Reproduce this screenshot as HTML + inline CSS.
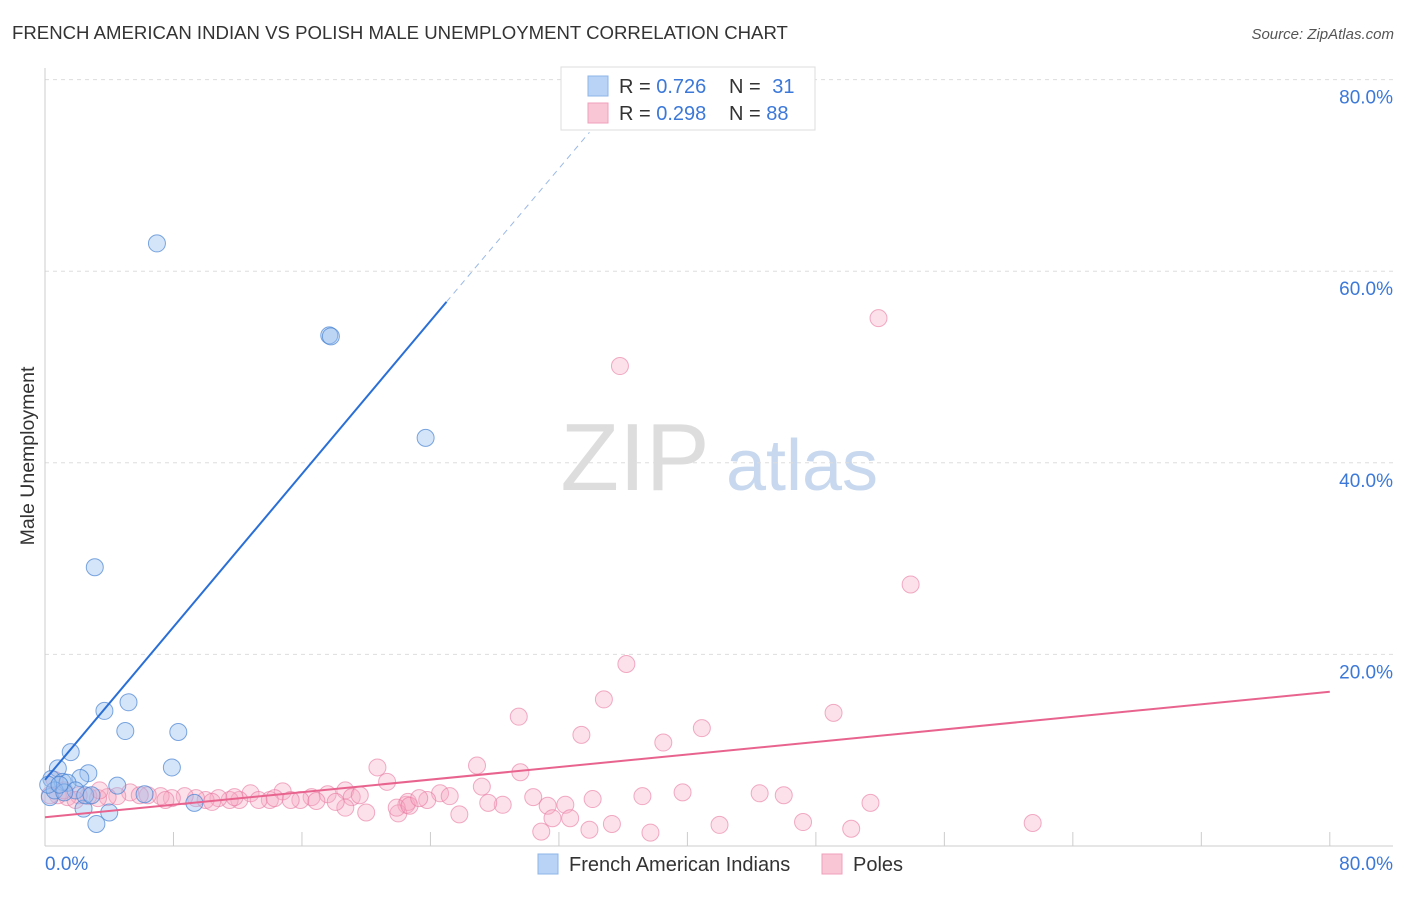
<!DOCTYPE html>
<html><head><meta charset="utf-8"><style>
body{margin:0;background:#fff;font-family:"Liberation Sans",sans-serif;}
svg text{font-family:"Liberation Sans",sans-serif;}
</style></head><body>
<svg id="chart" width="1406" height="892" viewBox="0 0 1406 892">
<text x="12" y="39" font-size="18.6" fill="#333">FRENCH AMERICAN INDIAN VS POLISH MALE UNEMPLOYMENT CORRELATION CHART</text>
<text x="1394" y="39" font-size="15" fill="#555" text-anchor="end" font-style="italic">Source: ZipAtlas.com</text>
<text x="34" y="456" font-size="19.5" fill="#333" text-anchor="middle" transform="rotate(-90 34 456)">Male Unemployment</text>
<g>
<text x="635" y="490" font-size="96" fill="#ddd" text-anchor="middle" font-family="Liberation Serif">ZIP</text>
<text x="802" y="490" font-size="72" fill="#c8d8ee" text-anchor="middle">atlas</text>
</g>
<g id="grid"></g>
<g id="axes"></g>
<g id="marks"></g>
<g>
<rect x="561" y="67" width="254" height="63" fill="#fff" stroke="#ddd"/>
<rect x="588" y="76" width="20" height="20" fill="#b8d3f5" stroke="#8db4e8"/>
<rect x="588" y="103" width="20" height="20" fill="#f9c6d6" stroke="#f0a0bb"/>
<text x="619" y="93" font-size="20" fill="#333">R = <tspan fill="#3b78d8">0.726</tspan></text>
<text x="729" y="93" font-size="20" fill="#333">N = <tspan fill="#3b78d8" dx="6">31</tspan></text>
<text x="619" y="120" font-size="20" fill="#333">R = <tspan fill="#3b78d8">0.298</tspan></text>
<text x="729" y="120" font-size="20" fill="#333">N = <tspan fill="#3b78d8">88</tspan></text>
</g>
<g>
<rect x="538" y="854" width="20" height="20" fill="#b8d3f5" stroke="#8db4e8"/>
<text x="569" y="871" font-size="20" fill="#333">French American Indians</text>
<rect x="822" y="854" width="20" height="20" fill="#f9c6d6" stroke="#f0a0bb"/>
<text x="853" y="871" font-size="20" fill="#333">Poles</text>
</g>
</svg>
<script>
const blueX=[6.97,17.7,17.8,23.7,3.1,3.7,5.2,5.0,8.3,1.6,7.9,0.8,2.7,4.5,0.4,1.1,2.2,1.4,6.2,9.3,4.0,2.4,3.2,0.3,0.6,1.9,2.5,1.2,0.2,2.9,0.9];
const blueY=[62.9,53.3,53.2,42.6,29.1,14.1,15.0,12.0,11.9,9.8,8.2,8.1,7.6,6.3,7.0,6.7,7.1,6.6,5.4,4.5,3.5,3.9,2.3,5.1,5.8,5.8,5.3,5.6,6.4,5.3,6.4];
const pinkX=[51.9,35.8,53.9,36.2,34.8,29.5,49.1,40.9,33.4,38.5,20.7,26.9,29.6,21.3,18.7,24.6,27.2,14.8,12.8,30.4,44.5,46.0,39.7,37.2,34.1,51.4,25.2,23.8,22.5,28.5,27.6,22.6,19.1,17.6,16.6,15.9,15.3,14.0,13.3,12.1,11.5,10.8,10.0,9.4,8.7,7.9,7.2,6.4,5.3,4.5,3.9,3.3,2.7,2.1,1.4,0.8,0.3,0.6,1.2,1.9,3.4,5.9,7.5,10.4,11.8,16.9,20.0,22.0,25.8,31.3,32.4,32.7,31.6,30.9,33.9,35.3,37.7,42.0,47.2,50.2,61.5,21.9,22.7,23.3,18.7,19.6,18.1,14.3];
const pinkY=[55.1,50.1,27.3,19.0,15.3,13.5,13.9,12.3,11.6,10.8,8.2,8.4,7.7,6.7,5.8,5.5,6.2,5.7,5.5,5.1,5.5,5.3,5.6,5.2,4.9,4.5,5.2,4.8,4.3,4.3,4.5,4.6,5.1,5.4,5.1,4.8,4.8,4.8,4.8,4.8,4.8,5.0,4.8,5.0,5.2,5.0,5.2,5.3,5.6,5.2,5.1,5.0,5.2,5.3,5.1,5.3,5.3,6.9,5.8,4.8,5.8,5.3,4.8,4.6,5.1,4.7,3.5,3.4,3.3,4.2,4.3,2.9,2.9,1.5,1.7,2.3,1.4,2.2,2.5,1.8,2.4,4.0,4.2,5.0,4.0,5.3,4.6,5.0];
const yTicks=[20,40,60,80];
const yTickLabels=["20.0%","40.0%","60.0%","80.0%"];
const blueTrend=[[0,6.9],[25,56.8],[33.9,74.5]];
const pinkTrend=[[0,3.0],[80,16.1]];
const NS='http://www.w3.org/2000/svg';
const sx=v=>45+v*16.06, sy=v=>846-v*9.58;
function mk(tag,attrs,parent){const e=document.createElementNS(NS,tag);for(const k in attrs)e.setAttribute(k,attrs[k]);parent.appendChild(e);return e;}
const grid=document.getElementById('grid'),axes=document.getElementById('axes'),marks=document.getElementById('marks');
yTicks.forEach((t,i)=>{
 const l=mk('line',{x1:45,x2:1393,y1:sy(t),y2:sy(t),stroke:'#ddd','stroke-dasharray':'4,4'},grid);
 
 
 const tx=mk('text',{x:1393,y:sy(t)+24,'font-size':19,fill:'#3b78d8','text-anchor':'end'},axes);
 tx.textContent=yTickLabels[i];
 
 
});
const ax=mk('line',{x1:45,x2:45,y1:68,y2:846,stroke:'#ccc'},axes);


const bx=mk('line',{x1:45,x2:1393,y1:846,y2:846,stroke:'#ccc'},axes);


for(let t=8;t<=80;t+=8){const k=mk('line',{x1:sx(t),x2:sx(t),y1:832,y2:846,stroke:'#ccc'},axes);
 
 }
const x0=mk('text',{x:45,y:870,'font-size':19,fill:'#3b78d8'},axes);x0.textContent='0.0%';


const x1=mk('text',{x:1393,y:870,'font-size':19,fill:'#3b78d8','text-anchor':'end'},axes);x1.textContent='80.0%';


pinkX.forEach((v,i)=>{const c=mk('circle',{cx:sx(v),cy:sy(pinkY[i]),r:8.5,fill:'rgba(246,168,195,0.35)',stroke:'rgba(232,120,160,0.6)','stroke-width':1},marks);
 
 });
blueX.forEach((v,i)=>{const c=mk('circle',{cx:sx(v),cy:sy(blueY[i]),r:8.5,fill:'rgba(150,190,240,0.4)',stroke:'rgba(70,130,210,0.7)','stroke-width':1},marks);
 
 });
const bl=mk('line',{x1:sx(blueTrend[0][0]),y1:sy(blueTrend[0][1]),x2:sx(blueTrend[1][0]),y2:sy(blueTrend[1][1]),stroke:'#2a6fd6','stroke-width':2},marks);


const bd=mk('line',{x1:sx(blueTrend[1][0]),y1:sy(blueTrend[1][1]),x2:sx(blueTrend[2][0]),y2:sy(blueTrend[2][1]),stroke:'#9bb9e6','stroke-width':1,'stroke-dasharray':'6,5'},marks);


const pl=mk('line',{x1:sx(pinkTrend[0][0]),y1:sy(pinkTrend[0][1]),x2:sx(pinkTrend[1][0]),y2:sy(pinkTrend[1][1]),stroke:'#e8648f','stroke-width':2},marks);


</script>
</body></html>
